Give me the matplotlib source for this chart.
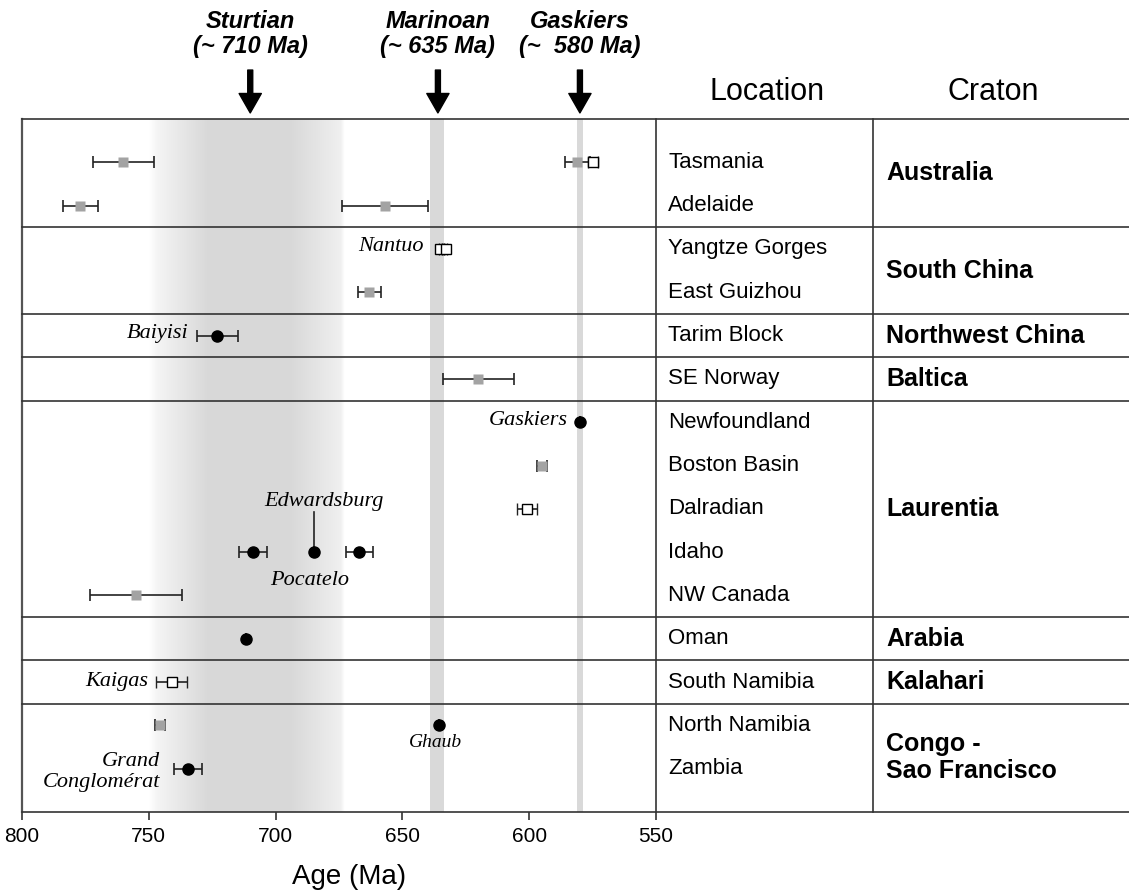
import numpy as np
import matplotlib.pyplot as plt
from matplotlib.colors import LinearSegmentedColormap
from matplotlib.transforms import blended_transform_factory

plt.rcParams['font.family'] = ['Liberation Sans', 'DejaVu Sans']

# table rows (one row per location, y = row number)
locations = ["Tasmania", "Adelaide", "Yangtze Gorges", "East Guizhou", "Tarim Block",
             "SE Norway", "Newfoundland", "Boston Basin", "Dalradian", "Idaho",
             "NW Canada", "Oman", "South Namibia", "North Namibia", "Zambia"]
loc_rows = list(range(1, 16))

cratons = ["Australia", "South China", "Northwest China", "Baltica", "Laurentia",
           "Arabia", "Kalahari", "Congo -\nSao Francisco"]
craton_edges = [0, 2.5, 4.5, 5.5, 6.5, 11.5, 12.5, 13.5, 16]

# ages (Ma)
grey_age = [760, 581, 777, 657, 663, 620, 595, 755, 745.5]
grey_err = [12, 5, 7, 17, 4.5, 14, 2, 18, 2]
grey_row = [1, 1, 2, 2, 4, 6, 8, 11, 14]

black_age = [723, 580, 709, 685, 667, 711.5, 635.5, 734.5]
black_err = [8, 0, 5.5, 0, 5.3, 0, 0, 5.5]
black_row = [5, 7, 10, 10, 10, 12, 14, 15]

open_age = [575, 635, 633, 601, 741]
open_err = [2, 0.5, 0.5, 4, 6]
open_row = [1, 3, 3, 9, 13]

# glaciations
events = ["Sturtian\n(~ 710 Ma)", "Marinoan\n(~ 635 Ma)", "Gaskiers\n(~  580 Ma)"]
event_age = [710, 636, 580]
marinoan_band = (639, 633.5)
gaskiers_band = (581.3, 578.7)
# sturtian shading: (age, grey level)
sturtian_stops = [(750, 1.0), (747, 0.96), (727, 0.85), (694, 0.85), (674.5, 0.94), (673, 1.0)]

fig = plt.figure(figsize=(11.29, 8.9), dpi=100)
ax = fig.add_axes([22 / 1129, 1 - 812 / 890, 634 / 1129, 693 / 890])

# gradient for the Sturtian
a0, a1 = sturtian_stops[0][0], sturtian_stops[-1][0]
cmap = LinearSegmentedColormap.from_list(
    'sturt', [((a0 - a) / (a0 - a1), (g, g, g)) for a, g in sturtian_stops])
ax.imshow(np.linspace(0, 1, 512)[None, :], cmap=cmap, extent=[a0, a1, 16, 0],
          aspect='auto', zorder=0, interpolation='bilinear')
ax.axvspan(*marinoan_band, color='#d9d9d9', lw=0, zorder=0.5)
ax.axvspan(*gaskiers_band, color='#d9d9d9', lw=0, zorder=0.5)

ax.set_xlim(800, 550)
ax.set_ylim(16, 0)

eb = dict(ecolor='#222222', elinewidth=1.2, capsize=4.3, capthick=1.2, ls='none', zorder=3)
ax.errorbar(grey_age, grey_row, xerr=grey_err, fmt='s', color='#a3a3a3', ms=7, mec='none', **eb)
ax.errorbar(black_age, black_row, xerr=black_err, fmt='o', color='black', ms=8, **eb)
ax.errorbar(open_age, open_row, xerr=open_err, fmt='s', mfc='white', mec='black', mew=1.0,
            ms=7, color='black', **eb)

# italic labels
ser = dict(family=['Liberation Serif', 'DejaVu Serif'], style='italic', fontsize=16, va='center')
ax.text(641.5, 2.95, "Nantuo", ha='right', **ser)
ax.text(734.5, 4.95, "Baiyisi", ha='right', **ser)
ax.text(584.7, 6.95, "Gaskiers", ha='right', **ser)
ax.text(681, 8.82, "Edwardsburg", ha='center', **ser)
ax.plot([685, 685], [9.07, 10], color='#222222', lw=1.2, zorder=2)
ax.text(686.4, 10.65, "Pocatelo", ha='center', **ser)
ax.text(750.3, 12.98, "Kaigas", ha='right', **ser)
ax.text(745.6, 15.08, "Grand\nConglomérat", ha='right', multialignment='right',
        linespacing=1.15, **ser)
ser['fontsize'] = 14
ax.text(637, 14.4, "Ghaub", ha='center', **ser)

# glaciation arrows and titles
for name, age in zip(events, event_age):
    ax.annotate('', xy=(age, -0.14), xytext=(age, -1.13), annotation_clip=False,
                arrowprops=dict(facecolor='black', edgecolor='black', width=3.6,
                                headwidth=16, headlength=14, shrink=0))
    ax.text(age, -1.96, name, ha='center', va='center', fontsize=17, fontweight='bold',
            style='italic', linespacing=1.1, clip_on=False)

# table lines and text
tr = blended_transform_factory(ax.transAxes, ax.transData)
line_kw = dict(color='#333333', lw=1.2, transform=tr, clip_on=False, zorder=4)
for yb in craton_edges:
    ax.plot([0, 1.746], [yb, yb], **line_kw)
for xc in [1.0, 1.342]:
    ax.plot([xc, xc], [0, 16], **line_kw)

for name, r in zip(locations, loc_rows):
    ax.text(1.019, r, name, transform=tr, fontsize=16, va='center', ha='left')
for i, name in enumerate(cratons):
    yc = (craton_edges[i] + craton_edges[i + 1]) / 2
    ax.text(1.363, yc, name, transform=tr, fontsize=18, fontweight='bold', va='center',
            ha='left', linespacing=1.15)

ax.text(1.175, -0.62, "Location", transform=tr, fontsize=22, ha='center', va='center')
ax.text(1.5315, -0.62, "Craton", transform=tr, fontsize=22, ha='center', va='center')

for s in ['top', 'right', 'bottom']:
    ax.spines[s].set_visible(False)
ax.spines['left'].set_color('#555555')
ax.spines['left'].set_linewidth(1.6)
ax.set_yticks([])
ax.set_xticks([800, 750, 700, 650, 600, 550])
ax.tick_params(axis='x', direction='out', length=5.5, width=1.2, color='#333333',
               labelsize=15, pad=5)

fig.text(349 / 1129, 1 - 877 / 890, "Age (Ma)", fontsize=20, ha='center', va='center')

fig.savefig('out.png', dpi=100)
